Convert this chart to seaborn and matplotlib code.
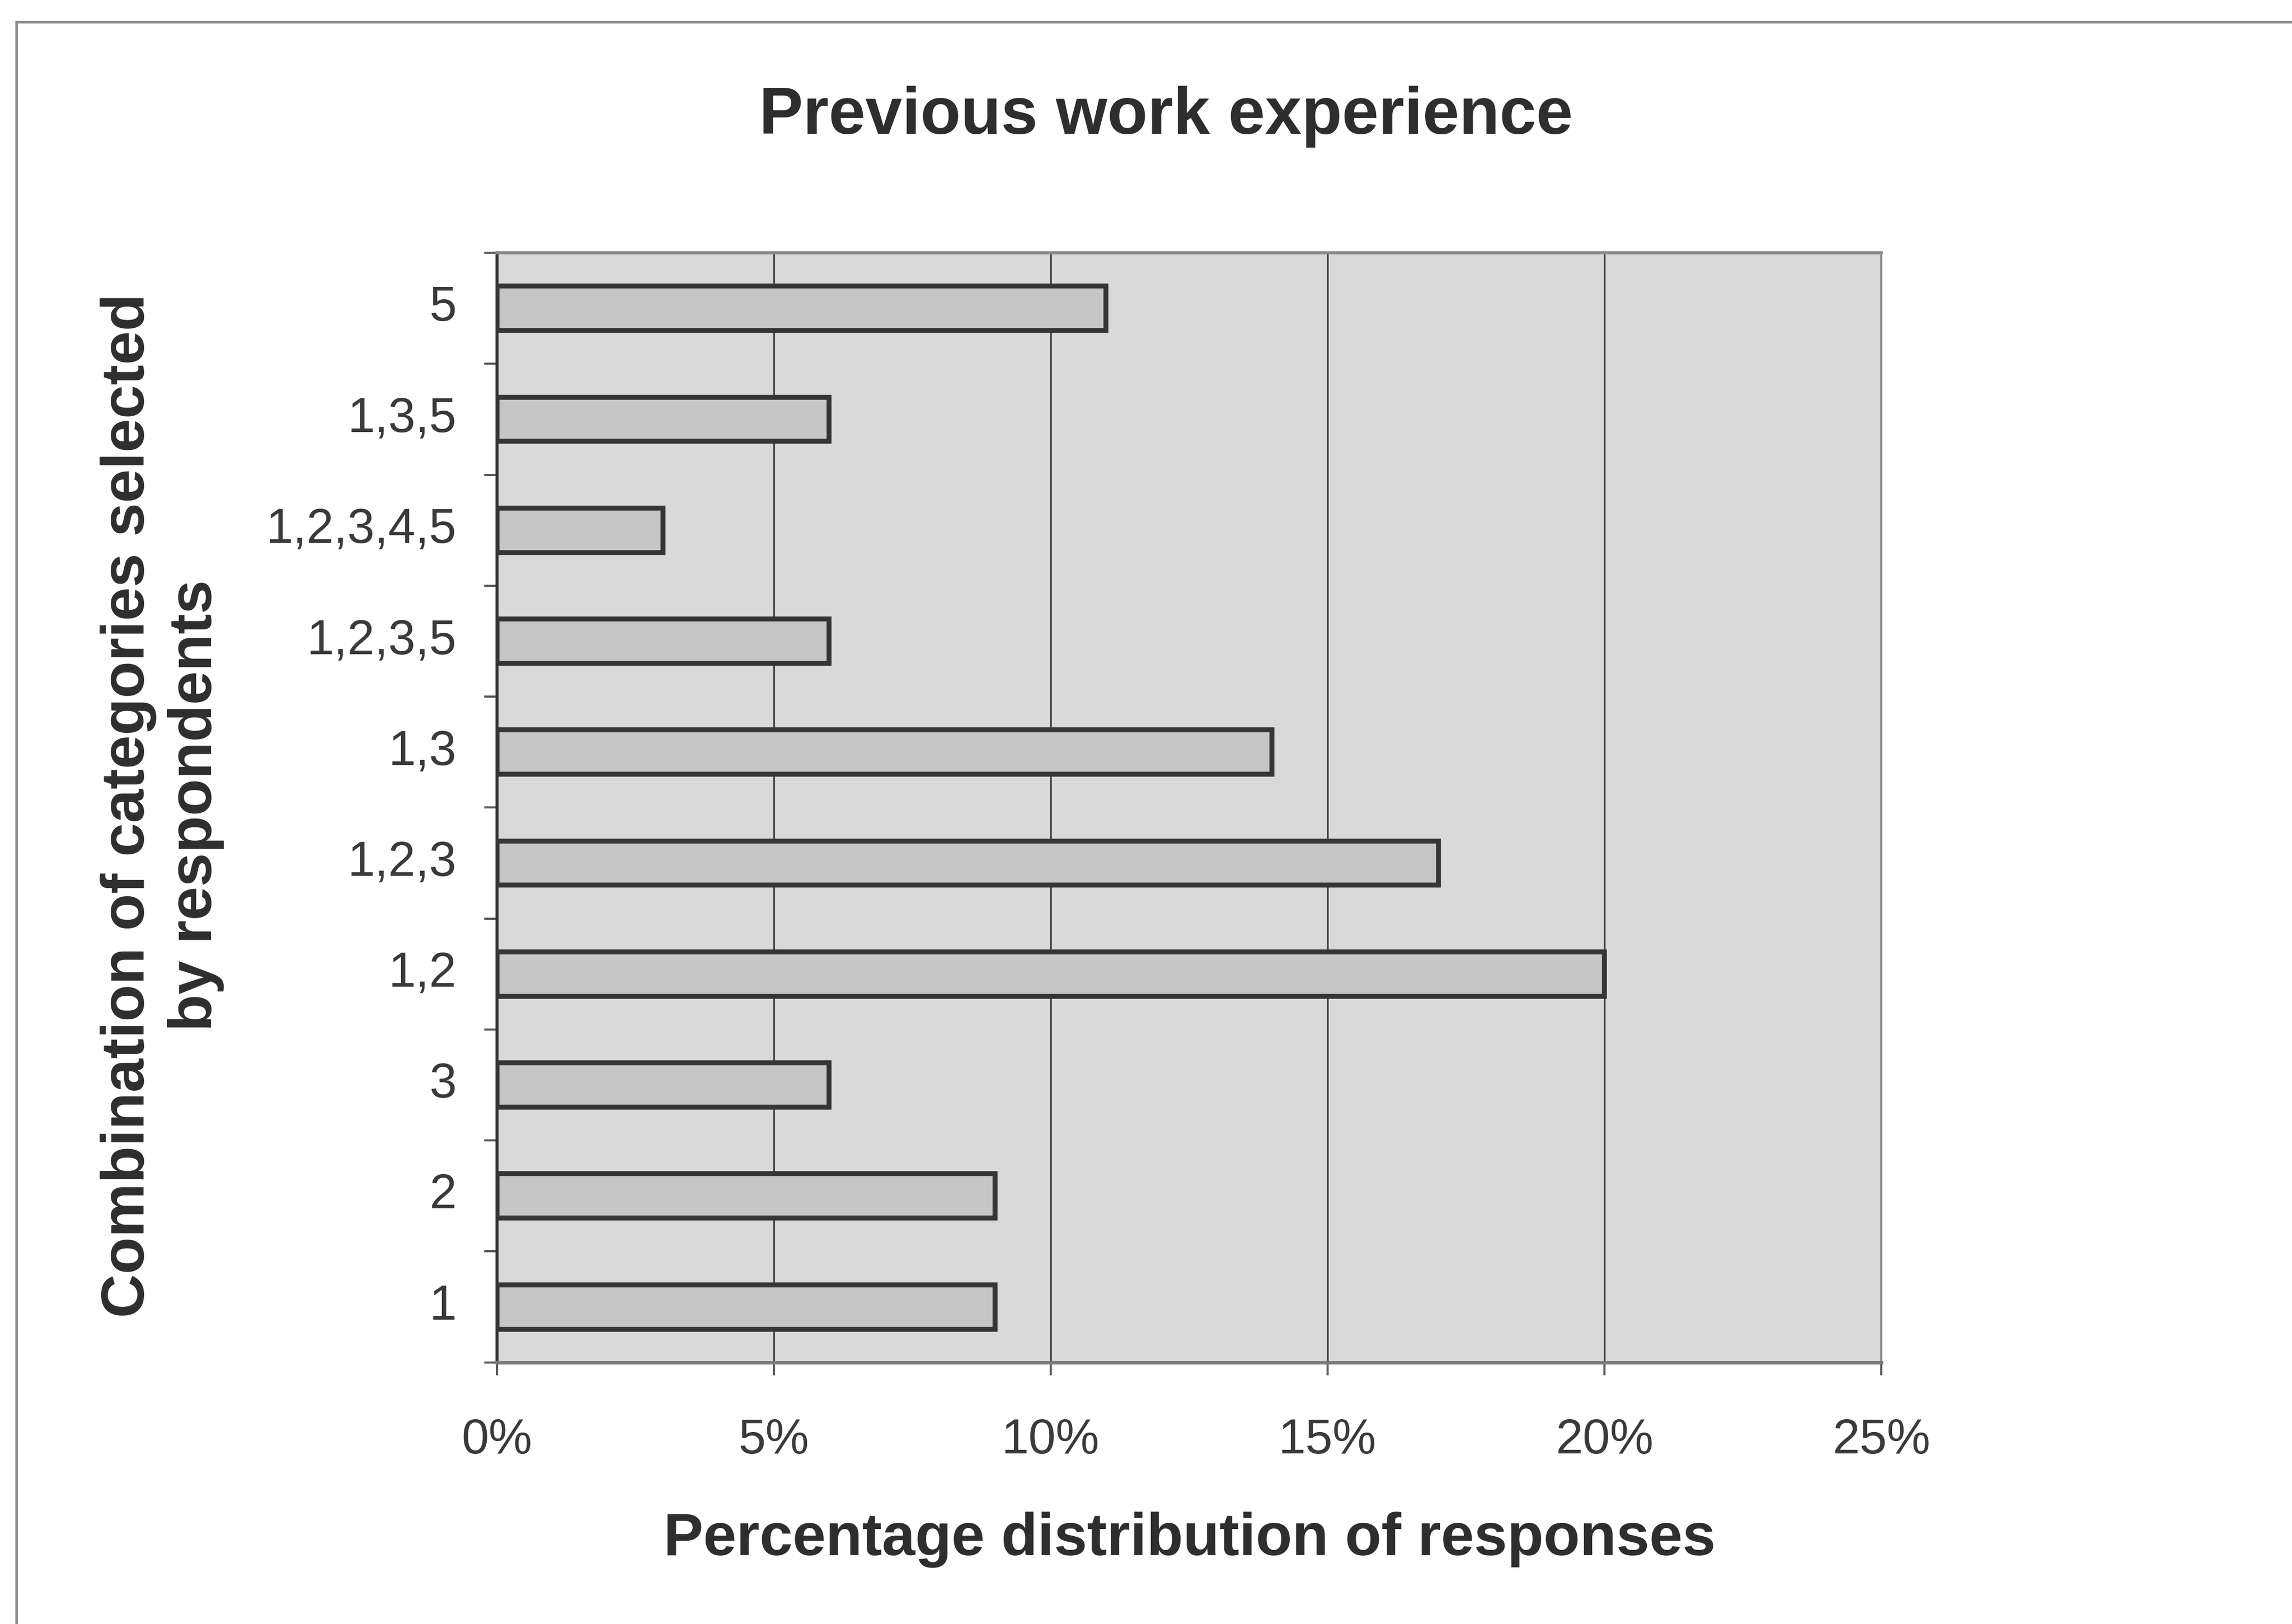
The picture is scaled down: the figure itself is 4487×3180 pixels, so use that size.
import matplotlib
matplotlib.use("Agg")
import matplotlib.pyplot as plt
import matplotlib.patches as mpatches
import matplotlib.transforms as mtransforms
from matplotlib.ticker import FuncFormatter, FixedLocator
import seaborn as sns
import pandas as pd

# Response combinations (top to bottom) and their share of responses, in percent
combinations = ["5", "1,3,5", "1,2,3,4,5", "1,2,3,5", "1,3", "1,2,3", "1,2", "3", "2", "1"]
share_pct = [11, 6, 3, 6, 14, 17, 20, 6, 9, 9]

title_text = "Previous work experience"
x_title = "Percentage distribution of responses"
y_title = "Combination of categories selected\nby respondents"
x_ticks = [0, 5, 10, 15, 20, 25]

df = pd.DataFrame({"combination": combinations, "share": share_pct})

sns.set_theme(style="white")
plt.rcParams["font.family"] = ["Liberation Sans", "DejaVu Sans"]

DPI = 300
fig = plt.figure(figsize=(4487 / DPI, 3180 / DPI), dpi=DPI, facecolor="white")
ax = fig.add_axes([0.2168, 0.1611, 0.6040, 0.6832])
ax.set_facecolor("#d9d9d9")

sns.barplot(
    data=df, x="share", y="combination", order=combinations, orient="h",
    width=0.4, color="#c6c6c6", edgecolor="#353535", linewidth=2.3,
    saturation=1, ax=ax, zorder=3,
)

# x axis: percent scale with vertical gridlines
ax.set_xlim(0, 25)
ax.xaxis.set_major_locator(FixedLocator(x_ticks))
ax.xaxis.set_major_formatter(FuncFormatter(lambda v, _: f"{v:.0f}%"))
ax.grid(axis="x", color="#3f3f3f", linewidth=0.8, zorder=1)
ax.grid(axis="y", visible=False)
ax.set_axisbelow(True)

# y axis: tick marks sit between categories, labels at the category centres
ax.set_ylim(len(combinations) - 0.5, -0.5)
ax.yaxis.set_minor_locator(FixedLocator([i - 0.5 for i in range(len(combinations) + 1)]))
ax.tick_params(axis="y", which="major", length=0, pad=19, labelsize=23, labelcolor="#3a3a3a")
ax.tick_params(axis="y", which="minor", left=True, length=6, width=1.0, color="#555555")
ax.tick_params(axis="x", which="major", bottom=True, length=6, width=1.0, color="#555555",
               pad=20, labelsize=23, labelcolor="#3a3a3a")

# category labels sit a touch above the bar centres
lift = mtransforms.ScaledTranslation(0, 2.5 / 72, fig.dpi_scale_trans)
for lbl in ax.get_yticklabels():
    lbl.set_transform(lbl.get_transform() + lift)

for side, col, lw in [("left", "#333333", 1.4), ("bottom", "#7a7a7a", 1.6),
                      ("top", "#8a8a8a", 1.4), ("right", "#8a8a8a", 1.0)]:
    ax.spines[side].set_visible(True)
    ax.spines[side].set_color(col)
    ax.spines[side].set_linewidth(lw)

ax.set_xlabel(x_title, fontsize=28, fontweight="bold", color="#2e2e2e")
ax.xaxis.set_label_coords(0.5003, -0.160)
ax.xaxis.label.set_va("center")

ax.set_ylabel(y_title, fontsize=28.5, fontweight="bold", color="#2e2e2e", linespacing=1.25)
ax.yaxis.set_label_coords(-0.2417, 0.502)
ax.yaxis.label.set_va("center")
ax.yaxis.label.set_ha("center")

fig.text(0.5086, 0.928, title_text, ha="center", va="center",
         fontsize=31, fontweight="bold", color="#2e2e2e")

# chart-area border (open to the right and bottom)
frame = mpatches.Rectangle((32 / 4487, -0.05), 1.1, 1.05 - 43 / 3180,
                           transform=fig.transFigure, fill=False,
                           edgecolor="#8c8c8c", linewidth=1.2, clip_on=False)
fig.add_artist(frame)

fig.savefig("out.png", dpi=DPI, facecolor="white")
